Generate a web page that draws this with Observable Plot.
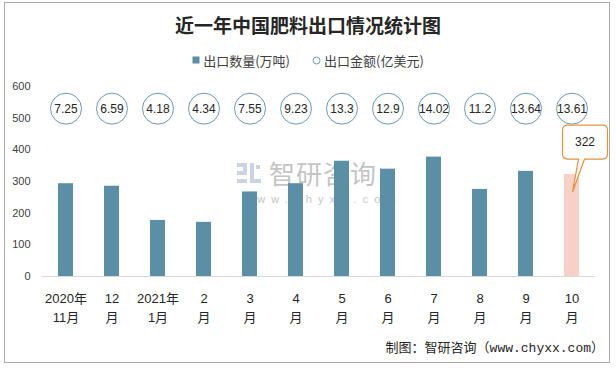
<!DOCTYPE html>
<html><head><meta charset="utf-8">
<script src="https://cdn.jsdelivr.net/npm/d3@7"></script>
<script src="https://cdn.jsdelivr.net/npm/@observablehq/plot@0.6"></script>
<style>
html,body{margin:0;padding:0;background:#fff;}
#wrap{position:relative;width:616px;height:368px;overflow:hidden;font-family:"Liberation Sans","Noto Sans CJK SC",sans-serif;}
#frame{position:absolute;left:4px;top:2px;width:604px;height:359px;border:1.5px solid #aaa;}
#title{position:absolute;left:0;top:10px;width:616px;line-height:30px;text-align:center;font-family:"Noto Sans CJK SC",sans-serif;font-weight:bold;font-size:19px;color:#262626;}
#legend{position:absolute;left:0;top:50px;width:616px;height:20px;display:flex;justify-content:center;align-items:center;gap:22px;font-size:13px;color:#404040;font-family:"Noto Sans CJK SC",sans-serif;}
#legend span{display:flex;align-items:center;gap:3px;}
#watermark{position:absolute;left:237px;top:159px;color:#c4c4c4;}
#wm1{display:flex;align-items:center;gap:8px;font-family:"Noto Sans CJK SC",sans-serif;font-size:26px;letter-spacing:1px;line-height:28px;height:28px;}
#wm2{font-size:11px;line-height:12px;height:12px;letter-spacing:6.2px;margin-left:6px;margin-top:6px;font-family:"Liberation Sans",sans-serif;}
#chart{position:absolute;left:0;top:70px;}
#source{position:absolute;right:12px;top:339px;font-size:13px;line-height:20px;color:#262626;font-family:"Liberation Mono","Noto Sans CJK SC",monospace;}
</style>
</head><body>
<div id="wrap">
  <div id="frame"></div>
  <div id="title">近一年中国肥料出口情况统计图</div>
  <div id="legend">
    <span><svg width="8" height="8"><rect x="0.5" y="0.5" width="7" height="7" fill="#5a8fa6"/></svg>出口数量(万吨)</span>
    <span><svg width="9" height="9"><circle cx="4.5" cy="4.5" r="3.5" fill="white" stroke="#6a9ab0" stroke-width="1"/></svg>出口金额(亿美元)</span>
  </div>
  <div id="watermark">
    <div id="wm1"><svg width="24" height="20"><rect x="0" y="0" width="10" height="4" fill="#c9d3e3"/><rect x="6" y="0" width="4" height="10" fill="#c9d3e3"/><rect x="0" y="8" width="10" height="4" fill="#c9d3e3"/><rect x="0" y="16" width="10" height="4" fill="#c9d3e3"/><rect x="13" y="0" width="4" height="20" fill="#c9d3e3"/><rect x="13" y="16" width="11" height="4" fill="#c9d3e3"/><rect x="19" y="2" width="4" height="4" fill="#c9d3e3"/></svg><span>智研咨询</span></div>
    <div id="wm2">www.chyxx.com</div>
  </div>
  <div id="chart"></div>
  <div id="source">制图：智研咨询（www.chyxx.com）</div>
</div>
<script>
const months = ["2020年\n11月","12\n月","2021年\n1月","2\n月","3\n月","4\n月","5\n月","6\n月","7\n月","8\n月","9\n月","10\n月"];
const volume = [293,285,177,171,267,293,364,339,377,275,332,322];
const value = [7.25,6.59,4.18,4.34,7.55,9.23,13.3,12.9,14.02,11.2,13.64,13.61];
const yTicks = [0,100,200,300,400,500,600];
const highlight = "10\n月";
const circleRow = 530;

const data = months.map((m,i)=>({month:m, volume:volume[i], value:value[i]}));

const plot = Plot.plot({
  width:616, height:260, marginTop:16, marginBottom:54, marginLeft:42, marginRight:21,
  style:{fontFamily:'"Liberation Sans","Noto Sans CJK SC",sans-serif', background:"transparent", overflow:"visible"},
  x:{domain:months, paddingInner:0.67, paddingOuter:0.345, axis:null, label:null},
  y:{domain:[0,600], axis:null, label:null},
  marks:[
    Plot.ruleY([0], {stroke:"#d9d9d9", strokeWidth:1.2}),
    Plot.barY(data, {x:"month", y:"volume", fill: d => d.month===highlight ? "#f8d1c6" : "#5a8fa6"}),
    Plot.dot(data, {x:"month", y:()=>circleRow, r:15.5, stroke:"#6a9ab0", fill:"white", strokeWidth:1}),
    Plot.text(data, {x:"month", y:()=>circleRow, text:d=>String(d.value), fontSize:12, fill:"#262626"}),
    Plot.axisY({ticks:yTicks, tickSize:0, tickPadding:12, fontSize:11, color:"#404040", label:null}),
    Plot.axisX({tickSize:0, tickPadding:14, fontSize:13, lineHeight:1.4, color:"#262626", label:null})
  ]
});
document.getElementById("chart").appendChild(plot);

// callout for highlighted bar
const xs = plot.scale("x"), ys = plot.scale("y");
const idx = months.indexOf(highlight);
const cx = xs.apply(highlight) + xs.bandwidth/2;
const barTop = ys.apply(volume[idx]);
const l = cx-9, R = cx+36, t = barTop-49, b = barTop-15, r = 5;
const p = `M${l+r},${t}H${R-r}Q${R},${t} ${R},${t+r}V${b-r}Q${R},${b} ${R-r},${b}H${cx+13}L${cx+1},${barTop+18}L${cx+7},${b}H${l+r}Q${l},${b} ${l},${b-r}V${t+r}Q${l},${t} ${l+r},${t}Z`;
const svg = d3.select(plot);
svg.append("path").attr("d", p).attr("fill","white").attr("stroke","#e8913a").attr("stroke-width",1.2);
svg.append("text").attr("x",(l+R)/2).attr("y",(t+b)/2).attr("dy","0.35em").attr("text-anchor","middle")
  .attr("font-size",12).attr("fill","#262626").text(String(volume[idx]));
</script>
</body></html>
